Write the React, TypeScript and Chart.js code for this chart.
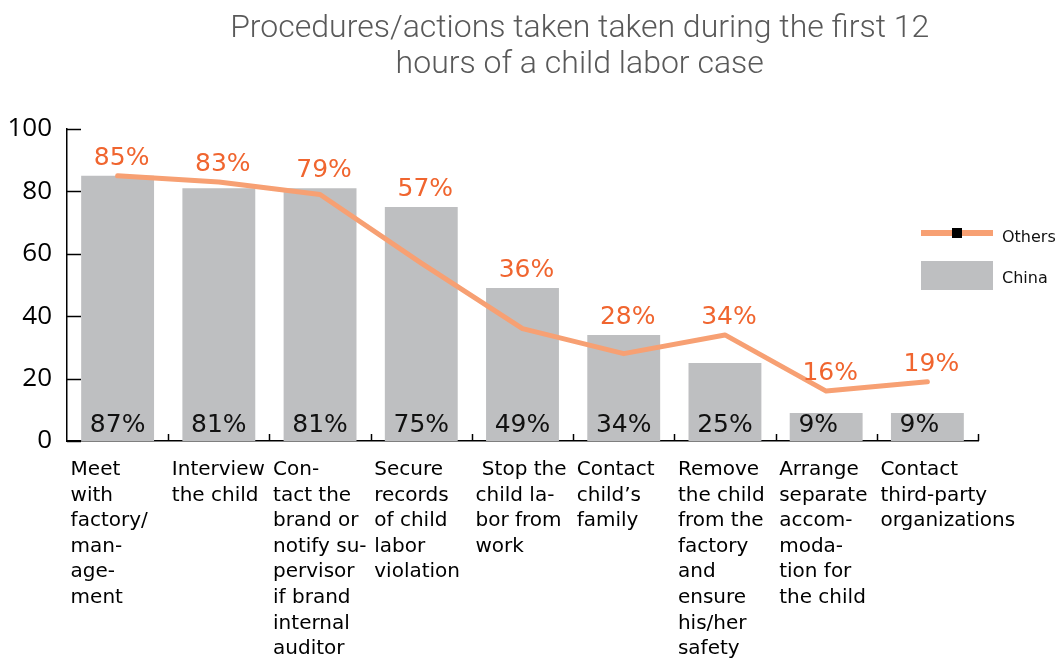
import React, { useEffect, useRef } from 'react';
import { Chart, registerables } from 'chart.js';

Chart.register(...registerables);

const titleLines = ['Procedures/actions taken taken during the first 12', 'hours of a child labor case'];

const categories: string[][] = [
  ['Meet', 'with', 'factory/', 'man-', 'age-', 'ment'],
  ['Interview', 'the child'],
  ['Con-', 'tact the', 'brand or', 'notify su-', 'pervisor', 'if brand', 'internal', 'auditor'],
  ['Secure', 'records', 'of child', 'labor', 'violation'],
  [' Stop the', 'child la-', 'bor from', 'work'],
  ['Contact', 'child\u2019s', 'family'],
  ['Remove', 'the child', 'from the', 'factory', 'and', 'ensure', 'his/her', 'safety'],
  ['Arrange', 'separate', 'accom-', 'moda-', 'tion for', 'the child'],
  ['Contact', 'third-party', 'organizations'],
];

const chinaValues = [85, 81, 81, 75, 49, 34, 25, 9, 9];
const chinaLabels = ['87%', '81%', '81%', '75%', '49%', '34%', '25%', '9%', '9%'];
const othersValues = [85, 83, 79, 57, 36, 28, 34, 16, 19];
const othersLabels = ['85%', '83%', '79%', '57%', '36%', '28%', '34%', '16%', '19%'];
const seriesNames = ['Others', 'China'];

const LINE_COLOR = '#F7A073';
const LABEL_ORANGE = '#F0652F';
const BAR_COLOR = '#BEBFC1';
const LABEL_FONT = '25px "DejaVu Sans"';

const decorPlugin = {
  id: 'decor',
  afterDatasetsDraw(chart: any) {
    const ctx = chart.ctx;
    const area = chart.chartArea;
    const yScale = chart.scales.y;
    const n = categories.length;
    ctx.save();

    // inner tick marks
    ctx.strokeStyle = '#000';
    ctx.lineWidth = 1.5;
    yScale.ticks.forEach((t: any) => {
      const y = Math.round(yScale.getPixelForValue(t.value)) + 0.5;
      ctx.beginPath();
      ctx.moveTo(area.left, y);
      ctx.lineTo(area.left + 14, y);
      ctx.stroke();
    });
    const cw = (area.right - area.left) / n;
    for (let i = 1; i <= n; i++) {
      const x = Math.round(area.left + i * cw) + 0.5;
      ctx.beginPath();
      ctx.moveTo(x, area.bottom);
      ctx.lineTo(x, area.bottom - 7);
      ctx.stroke();
    }

    // data labels
    ctx.font = LABEL_FONT;
    const half = ctx.measureText('00%').width / 2;
    const barMeta = chart.getDatasetMeta(1);
    const lineMeta = chart.getDatasetMeta(0);
    ctx.textAlign = 'left';
    ctx.textBaseline = 'alphabetic';
    barMeta.data.forEach((bar: any, i: number) => {
      ctx.fillStyle = '#111';
      ctx.fillText(chinaLabels[i], bar.x - half, area.bottom - 9);
    });
    lineMeta.data.forEach((pt: any, i: number) => {
      const barTop = barMeta.data[i].y;
      const y = Math.min(pt.y, barTop) - 11;
      ctx.fillStyle = LABEL_ORANGE;
      ctx.fillText(othersLabels[i], pt.x - half + 4, y);
    });

    // title
    ctx.fillStyle = '#595959';
    ctx.font = '300 32px Roboto';
    ctx.textAlign = 'center';
    ctx.textBaseline = 'middle';
    titleLines.forEach((line, i) => {
      ctx.fillText(line, chart.width * 0.549, 29 + i * 36);
    });

    // legend
    const lx = area.right - 57;
    ctx.strokeStyle = LINE_COLOR;
    ctx.lineWidth = 6;
    ctx.beginPath();
    ctx.moveTo(lx, 233);
    ctx.lineTo(lx + 72, 233);
    ctx.stroke();
    ctx.fillStyle = '#000';
    ctx.fillRect(lx + 31, 228, 10, 10);
    ctx.fillStyle = BAR_COLOR;
    ctx.fillRect(lx, 261, 72, 29);
    ctx.fillStyle = '#111';
    ctx.font = '16px "DejaVu Sans"';
    ctx.textAlign = 'left';
    ctx.textBaseline = 'middle';
    ctx.fillText(seriesNames[0], lx + 81, 238);
    ctx.fillText(seriesNames[1], lx + 81, 279);
    ctx.restore();
  },
};

export default function App() {
  const ref = useRef<HTMLCanvasElement | null>(null);
  useEffect(() => {
    if (!ref.current) return;
    const chart = new Chart(ref.current, {
      type: 'bar',
      data: {
        labels: categories,
        datasets: [
          {
            type: 'line',
            label: seriesNames[0],
            data: othersValues,
            borderColor: LINE_COLOR,
            backgroundColor: LINE_COLOR,
            borderWidth: 5,
            pointRadius: 0,
            tension: 0,
            borderCapStyle: 'round',
            borderJoinStyle: 'round',
            order: 0,
          } as any,
          {
            type: 'bar',
            label: seriesNames[1],
            data: chinaValues,
            backgroundColor: BAR_COLOR,
            barPercentage: 0.72,
            categoryPercentage: 1,
            order: 1,
          },
        ],
      },
      options: {
        animation: false,
        responsive: true,
        maintainAspectRatio: false,
        layout: { padding: { top: 129, right: 78, left: 0, bottom: 0 } },
        plugins: {
          legend: { display: false },
          title: { display: false },
          tooltip: { enabled: false },
        },
        scales: {
          x: {
            offset: true,
            grid: { display: false, drawTicks: false },
            border: { display: true, color: '#000', width: 1.5 },
            ticks: {
              autoSkip: false,
              maxRotation: 0,
              minRotation: 0,
              align: 'start',
              labelOffset: -47,
              padding: 16,
              color: '#000',
              font: { family: '"DejaVu Sans"', size: 20, lineHeight: 1.28 },
            },
            afterFit: (s: any) => {
              s.height = 218;
              s.paddingLeft = 0;
              s.paddingRight = 0;
            },
          },
          y: {
            min: 0,
            max: 100,
            grid: { display: false, drawTicks: false },
            border: { display: true, color: '#000', width: 1.5 },
            ticks: {
              stepSize: 20,
              padding: 15,
              color: '#000',
              font: { family: '"Open Sans"', size: 26 },
            },
            afterFit: (s: any) => {
              s.width = 67;
            },
          },
        },
      },
      plugins: [decorPlugin],
    });
    return () => chart.destroy();
  }, []);
  return (
    <div style={{ position: 'fixed', left: 0, top: 0, width: 1056, height: 659, background: '#fff' }}>
      <canvas ref={ref} />
    </div>
  );
}
